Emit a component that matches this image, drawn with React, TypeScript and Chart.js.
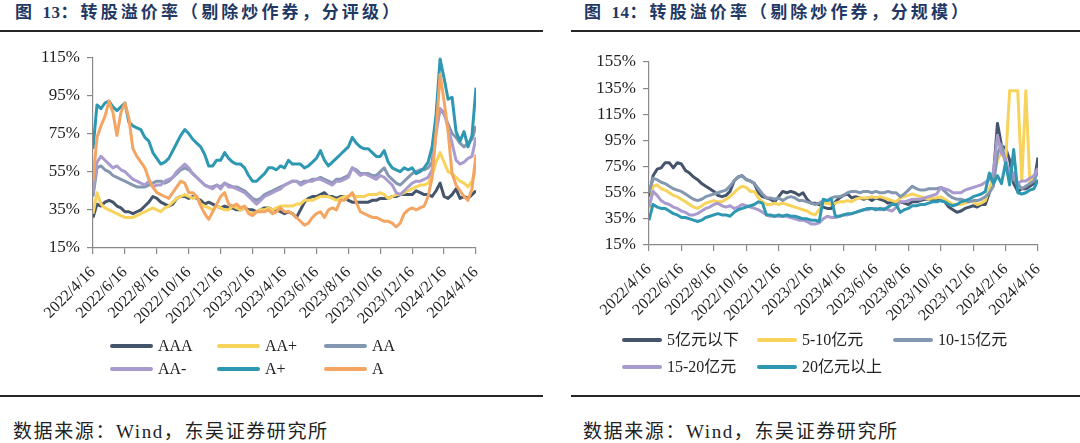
import React, { useEffect, useRef } from 'react';
import { Chart, registerables } from 'chart.js';

Chart.register(...registerables);

// ---------- x-axis tick labels (shared) ----------
const tickLabels = [
  '2022/4/16', '2022/6/16', '2022/8/16', '2022/10/16', '2022/12/16', '2023/2/16',
  '2023/4/16', '2023/6/16', '2023/8/16', '2023/10/16', '2023/12/16', '2024/2/16', '2024/4/16',
];

// ---------- Figure 13: by rating (weekly samples, %) ----------
const ratingNames = ['AAA', 'AA+', 'AA', 'AA-', 'A+', 'A'];
const ratingColors = ['#44546A', '#F8D35B', '#8497B0', '#AA9BCF', '#2E98B2', '#F4A562'];

const rAAA = [
  31, 38, 37, 39, 40, 39, 37, 36, 34, 34, 33, 34, 35, 37, 39, 42, 41, 39, 38, 37, 38, 41, 42, 42, 41, 42, 41, 40, 38, 39, 38, 37,
  36, 37, 36, 36, 35, 35, 36, 35, 35, 34, 35, 36, 36, 35, 35, 34, 33, 34, 33, 31, 35, 39, 41, 42, 42, 43, 44, 42, 42, 41,
  42, 42, 40, 39, 39, 39, 39, 39, 40, 40, 41, 41, 41, 42, 42, 43, 43, 43, 43, 45, 44, 43, 43, 42, 45, 49, 42, 41, 43, 46, 41, 42, 41, 43, 45,
];
const rAAplus = [
  33, 44, 38, 36, 35, 34, 33, 32, 31, 31, 31, 32, 33, 34, 35, 36, 35, 34, 36, 37, 39, 41, 42, 43, 42, 41, 42, 38, 37, 36, 35, 37,
  36, 35, 35, 37, 36, 35, 36, 34, 33, 34, 35, 35, 36, 35, 36, 37, 37, 37, 37, 38, 38, 40, 40, 40, 41, 42, 42, 42, 41, 40,
  41, 42, 42, 43, 42, 42, 42, 43, 43, 43, 44, 43, 41, 42, 43, 43, 44, 45, 46, 47, 48, 48, 49, 53, 60, 65, 60, 55, 54, 52, 50, 49, 47, 50, 56,
];
const rAA = [
  42, 57, 58, 56, 55, 53, 52, 51, 50, 49, 48, 47, 47, 47, 48, 49, 50, 50, 49, 50, 52, 54, 56, 57, 56, 54, 52, 50, 48, 47, 47, 48,
  47, 49, 48, 47, 47, 46, 45, 43, 41, 40, 41, 43, 44, 45, 46, 47, 48, 49, 50, 50, 49, 50, 50, 51, 51, 52, 51, 50, 49, 51,
  51, 52, 53, 57, 56, 54, 54, 54, 53, 53, 55, 57, 53, 51, 49, 48, 50, 52, 54, 55, 56, 56, 57, 60, 78, 88, 85, 80, 75, 73, 70, 68, 70, 72, 79,
];
const rAAminus = [
  44, 60, 63, 61, 59, 57, 58, 56, 55, 53, 51, 50, 49, 48, 50, 47, 48, 48, 50, 51, 52, 55, 57, 59, 57, 54, 52, 50, 48, 47, 46, 48,
  46, 49, 47, 47, 46, 45, 44, 42, 40, 38, 40, 42, 43, 44, 45, 46, 48, 49, 50, 50, 48, 49, 50, 50, 51, 51, 50, 49, 48, 50,
  50, 51, 52, 57, 55, 53, 54, 53, 52, 51, 53, 52, 50, 48, 44, 43, 45, 47, 49, 50, 50, 51, 52, 56, 75, 88, 86, 78, 70, 61, 59, 60, 62, 63, 73,
];
const rAplus = [
  67, 90, 88, 91, 92, 89, 87, 89, 91, 81, 79, 78, 77, 73, 71, 65, 62, 59, 60, 62, 66, 70, 74, 77, 75, 72, 70, 68, 64, 58, 58, 61,
  61, 65, 62, 60, 59, 59, 57, 53, 50, 50, 52, 54, 57, 57, 56, 58, 57, 61, 59, 59, 59, 57, 58, 60, 62, 66, 61, 58, 60, 62,
  64, 66, 68, 73, 70, 68, 67, 67, 65, 63, 63, 66, 60, 57, 56, 55, 57, 56, 57, 54, 55, 57, 60, 68, 85, 114, 104, 93, 94, 76, 71, 76, 68, 74, 99,
];
const rA = [
  50, 73, 79, 84, 92, 86, 74, 86, 91, 83, 67, 63, 60, 57, 51, 47, 44, 43, 42, 41, 44, 47, 50, 49, 44, 44, 42, 37, 33, 30, 34, 38,
  42, 44, 38, 37, 38, 36, 37, 33, 32, 34, 34, 34, 35, 33, 34, 36, 34, 34, 33, 31, 29, 27, 28, 31, 33, 34, 31, 35, 36, 35,
  40, 40, 42, 44, 39, 34, 33, 32, 31, 31, 30, 29, 29, 28, 26, 28, 33, 35, 36, 35, 36, 37, 42, 52, 76, 106, 92, 76, 54, 48, 45, 42, 40, 46, 64,
];

// ---------- Figure 14: by issue size (weekly samples, %) ----------
const sizeNames = ['5亿元以下', '5-10亿元', '10-15亿元', '15-20亿元', '20亿元以上'];
const sizeColors = ['#44546A', '#F8D35B', '#8497B0', '#AA9BCF', '#2E98B2'];

const sBelow5 = [
  52, 68, 73, 74, 78, 78, 74, 78, 77, 72, 70, 67, 65, 62, 60, 58, 56, 53, 52, 53, 56, 64, 67, 68, 65, 64, 62, 55, 52, 51, 50,
  48, 52, 56, 55, 56, 55, 53, 55, 50, 47, 47, 46, 44, 43, 43, 48, 51, 53, 54, 51, 52, 51, 50, 51, 49, 51, 50, 49, 47, 48, 47,
  48, 47, 46, 48, 48, 49, 50, 50, 50, 49, 49, 48, 44, 42, 40, 41, 43, 44, 45, 44, 46, 46, 55, 68, 108, 91, 89, 80, 62, 56, 58, 58, 60, 62, 82,
];
const s5to10 = [
  42, 60, 61, 58, 57, 55, 53, 52, 50, 48, 46, 44, 43, 45, 47, 48, 49, 48, 48, 50, 52, 55, 58, 60, 59, 56, 56, 51, 48, 46, 46,
  47, 46, 47, 46, 45, 44, 43, 42, 41, 39, 38, 42, 47, 47, 46, 47, 48, 48, 49, 48, 50, 51, 51, 51, 52, 51, 52, 51, 50, 49, 48,
  51, 52, 53, 54, 53, 52, 51, 50, 51, 51, 52, 50, 48, 46, 46, 46, 47, 48, 48, 46, 47, 49, 58, 66, 80, 87, 78, 133, 133, 133, 64, 133, 62, 66, 70,
];
const s10to15 = [
  55, 66, 65, 63, 62, 60, 58, 57, 56, 54, 52, 50, 49, 50, 52, 53, 54, 55, 56, 57, 60, 64, 67, 68, 65, 64, 62, 58, 54, 51, 51,
  50, 51, 49, 51, 52, 51, 49, 49, 48, 47, 46, 47, 49, 49, 51, 52, 52, 53, 55, 56, 56, 55, 56, 56, 55, 56, 55, 55, 56, 55, 55,
  52, 54, 57, 60, 58, 57, 57, 58, 58, 58, 59, 56, 53, 51, 50, 50, 49, 48, 49, 49, 50, 52, 55, 60, 85, 92, 78, 70, 65, 62, 58, 60, 62, 64, 72,
];
const s15to20 = [
  44, 56, 53, 49, 47, 46, 44, 43, 41, 40, 38, 38, 39, 41, 43, 44, 46, 47, 45, 44, 45, 43, 44, 46, 45, 44, 43, 42, 40, 38, 37,
  37, 37, 37, 37, 36, 35, 34, 34, 33, 31, 31, 32, 35, 37, 36, 36, 37, 38, 38, 39, 40, 41, 42, 42, 43, 43, 42, 43, 42, 41, 44,
  48, 48, 49, 50, 50, 50, 51, 52, 53, 54, 59, 58, 57, 55, 55, 55, 57, 58, 59, 60, 61, 63, 65, 71, 99, 85, 81, 68, 70, 62, 64, 64, 66, 68, 74,
];
const sAbove20 = [
  34, 46, 44, 43, 43, 41, 39, 38, 36, 36, 35, 34, 33, 34, 36, 37, 38, 39, 38, 38, 37, 40, 42, 43, 44, 45, 46, 48, 47, 38, 38,
  37, 38, 37, 38, 37, 37, 36, 35, 35, 34, 34, 33, 50, 49, 50, 37, 37, 38, 39, 39, 40, 41, 42, 43, 43, 42, 43, 42, 44, 46, 46,
  40, 42, 43, 45, 45, 46, 46, 47, 48, 48, 49, 48, 46, 45, 46, 48, 49, 50, 52, 53, 54, 56, 70, 62, 68, 62, 78, 61, 88, 55, 54, 55, 57, 58, 65,
];

const ratingSeries = [rAAA, rAAplus, rAA, rAAminus, rAplus, rA];
const sizeSeries = [sBelow5, s5to10, s10to15, s15to20, sAbove20];

const SERIF = "'Liberation Serif', 'Times New Roman', serif";
const MIXED = "'Liberation Serif', 'Noto Sans CJK SC', serif";

type ChartProps = {
  series: number[][];
  names: string[];
  colors: string[];
  yMax: number;
  yAxisWidth: number;
  padRight: number;
  padTop: number;
  xAxisHeight: number;
};

function LineChart({ series, names, colors, yMax, yAxisWidth, padRight, padTop, xAxisHeight }: ChartProps) {
  const ref = useRef<HTMLCanvasElement>(null);
  useEffect(() => {
    const n = series[0].length;
    const step = (n - 1) / (tickLabels.length - 1);
    const axisColor = '#8a8a8a';
    const chart = new Chart(ref.current as HTMLCanvasElement, {
      type: 'line',
      data: {
        datasets: series.map((s, i) => ({
          label: names[i],
          data: s.map((v, j) => ({ x: j, y: v })),
          borderColor: colors[i],
          backgroundColor: colors[i],
          borderWidth: 3,
          pointRadius: 0,
          tension: 0,
          borderJoinStyle: 'round' as const,
          order: series.length - i,
        })),
      },
      options: {
        animation: false,
        responsive: true,
        maintainAspectRatio: false,
        layout: { padding: { left: 0, right: padRight, top: padTop, bottom: 0 } },
        plugins: { legend: { display: false }, tooltip: { enabled: false } },
        scales: {
          x: {
            type: 'linear',
            min: 0,
            max: n - 1,
            afterBuildTicks: (scale: any) => {
              scale.ticks = tickLabels.map((_, k) => ({ value: k * step }));
            },
            afterFit: (scale: any) => {
              scale.height = xAxisHeight;
            },
            ticks: {
              autoSkip: false,
              maxRotation: 45,
              minRotation: 45,
              padding: 9,
              color: '#222',
              font: { family: SERIF, size: 16 },
              callback: (_v: any, idx: number) => tickLabels[idx],
            },
            grid: { drawOnChartArea: false, drawTicks: true, tickLength: 6, color: axisColor, lineWidth: 1.2 },
            border: { display: true, color: axisColor, width: 1.2 },
          },
          y: {
            min: 15,
            max: yMax,
            afterFit: (scale: any) => {
              scale.width = yAxisWidth;
            },
            ticks: {
              stepSize: 20,
              padding: 7,
              color: '#222',
              font: { family: SERIF, size: 17 },
              callback: (v: any) => v + '%',
            },
            grid: { drawOnChartArea: false, drawTicks: true, tickLength: 6, color: axisColor, lineWidth: 1.2 },
            border: { display: true, color: axisColor, width: 1.2 },
          },
        },
      } as any,
    });
    return () => chart.destroy();
  }, []);
  return <canvas ref={ref} />;
}

function Legend({ names, colors, cols, rows, lineW, fontSize }: {
  names: string[]; colors: string[]; cols: number[]; rows: number[]; lineW: number; fontSize: number;
}) {
  return (
    <>
      {names.map((nm, i) => {
        const c = i % 3;
        const r = Math.floor(i / 3);
        return (
          <div
            key={nm}
            style={{
              position: 'absolute', left: cols[c], top: rows[r] - 10, height: 20,
              display: 'flex', alignItems: 'center', whiteSpace: 'nowrap',
            }}
          >
            <span style={{ display: 'inline-block', width: lineW, height: 4, borderRadius: 2, background: colors[i], marginRight: 5 }} />
            <span style={{ fontFamily: MIXED, fontSize, color: '#222', lineHeight: '20px' }}>{nm}</span>
          </div>
        );
      })}
    </>
  );
}

const titleStyle: React.CSSProperties = {
  position: 'absolute', top: 3, fontFamily: MIXED, fontWeight: 'bold', fontSize: 17,
  letterSpacing: 3.1, color: '#1F3864', lineHeight: '20px', whiteSpace: 'nowrap',
};
const sourceStyle: React.CSSProperties = {
  position: 'absolute', top: 420, fontFamily: MIXED, fontSize: 19, color: '#222',
  lineHeight: '24px', whiteSpace: 'nowrap', letterSpacing: 1.6,
};
const rule = (left: number, width: number, top: number): React.CSSProperties => ({
  position: 'absolute', left, width, top, height: 2, background: '#262626',
});

function Title({ num, text, left }: { num: string; text: string; left: number }) {
  return (
    <div style={{ ...titleStyle, left }}>
      图 <span style={{ letterSpacing: 0.5 }}>{num}</span>：{text}
    </div>
  );
}

export default function App() {
  return (
    <div style={{ position: 'absolute', left: 0, top: 0, width: 1080, height: 443, background: '#fff', overflow: 'hidden' }}>
      {/* Left panel */}
      <Title num="13" text="转股溢价率（剔除炒作券，分评级）" left={15} />
      <div style={rule(0, 543, 30)} />
      <div style={{ position: 'absolute', left: 0, top: 40, width: 540, height: 300 }}>
        <LineChart series={ratingSeries} names={ratingNames} colors={ratingColors} yMax={115}
          yAxisWidth={93} padRight={64} padTop={17} xAxisHeight={92} />
      </div>
      <Legend names={ratingNames} colors={ratingColors} cols={[110, 217, 324]} rows={[346, 369]} lineW={43} fontSize={16} />
      <div style={rule(0, 543, 395)} />
      <div style={{ ...sourceStyle, left: 13 }}>数据来源：Wind，东吴证券研究所</div>

      {/* Right panel */}
      <Title num="14" text="转股溢价率（剔除炒作券，分规模）" left={584} />
      <div style={rule(571, 509, 30)} />
      <div style={{ position: 'absolute', left: 540, top: 40, width: 540, height: 300 }}>
        <LineChart series={sizeSeries} names={sizeNames} colors={sizeColors} yMax={155}
          yAxisWidth={109} padRight={42} padTop={22} xAxisHeight={95} />
      </div>
      <Legend names={sizeNames} colors={sizeColors} cols={[622, 757, 893]} rows={[340, 367]} lineW={40} fontSize={16} />
      <div style={rule(571, 509, 395)} />
      <div style={{ ...sourceStyle, left: 583 }}>数据来源：Wind，东吴证券研究所</div>
    </div>
  );
}
